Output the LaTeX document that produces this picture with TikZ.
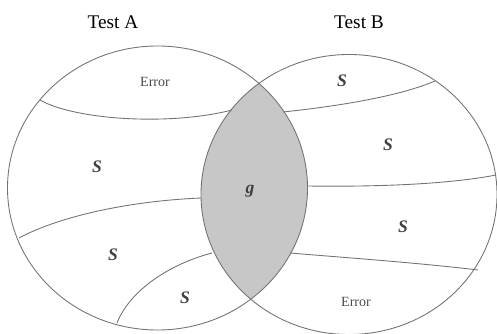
\documentclass[tikz,border=0pt]{standalone}
\usepackage{fontspec}
\setmainfont{Liberation Serif}
\usepackage{tikz}

\begin{document}
\begin{tikzpicture}[x=0.02cm,y=-0.02cm,
  every node/.style={font=\fontsize{10}{12}\selectfont},
  rim/.style={draw=black!55,line width=0.5pt},
  part/.style={font=\fontsize{10}{12}\selectfont\itshape\bfseries,text=black!75},
  errlabel/.style={font=\fontsize{8}{10}\selectfont,text=black!70}]
  \useasboundingbox (0,0) rectangle (497,334);
  % overlap of the two tests
  \begin{scope}
    \clip (157.5,188) ellipse [x radius=150,y radius=142];
    \fill[black!22] (349,194.5) ellipse [x radius=148,y radius=140];
  \end{scope}
  \draw[rim] (157.5,188) ellipse [x radius=150,y radius=142];
  \draw[rim] (349,194.5) ellipse [x radius=148,y radius=140];
  % dividing lines of test A
  \draw[rim] (40,100) .. controls (75,120) and (170,126) .. (232,110);
  \draw[rim] (19,238) .. controls (60,216) and (130,201) .. (201,198);
  \draw[rim] (117,323) .. controls (130,290) and (170,264) .. (212,253);
  % dividing lines of test B
  \draw[rim] (283,112) .. controls (340,106) and (400,96) .. (435,81);
  \draw[rim] (307,186) .. controls (380,187) and (450,184) .. (496,175);
  \draw[rim] (290,253) .. controls (350,258) and (420,263) .. (478,270);
  \node[font=\fontsize{11}{13}\selectfont] (testA) at (113,22) {Test A};
  \node[font=\fontsize{11}{13}\selectfont] (testB) at (359,22) {Test B};
  \node[errlabel] (errA) at (155,82) {Error};
  \node[errlabel] (errB) at (356,302) {Error};
  \node[part] (sA1) at (97,167) {S};
  \node[part] (sA2) at (113,255) {S};
  \node[part] (sA3) at (185,298) {S};
  \node[part] (sB1) at (342,81) {S};
  \node[part] (sB2) at (388,145) {S};
  \node[part] (sB3) at (403,227) {S};
  \node[part] (g) at (250,191) {g};
\end{tikzpicture}
\end{document}
